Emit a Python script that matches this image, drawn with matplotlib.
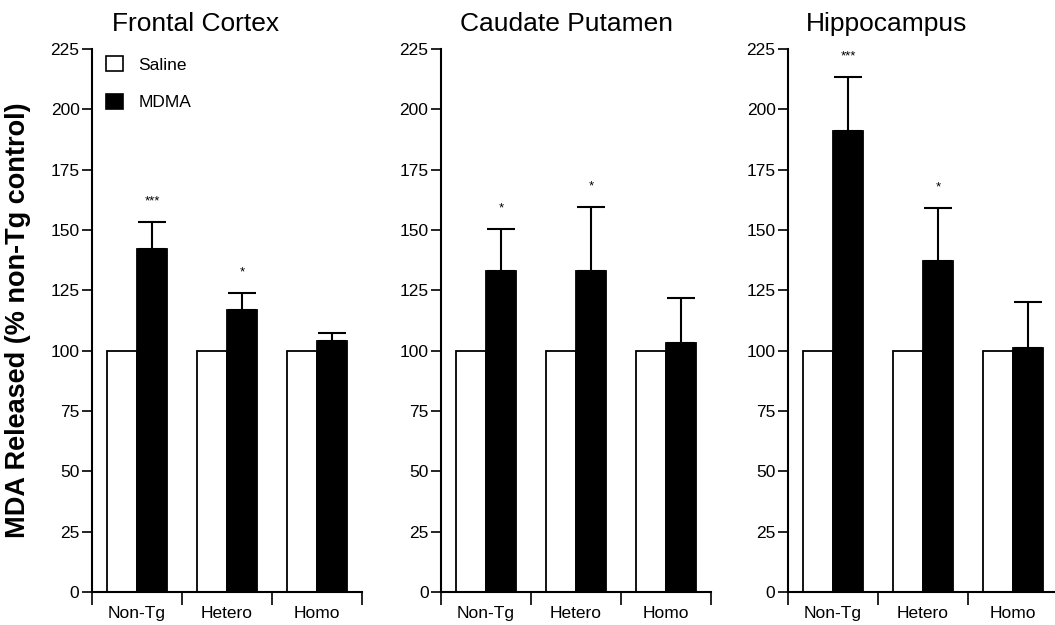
import matplotlib
matplotlib.use("Agg")
import matplotlib.pyplot as plt
from matplotlib.patches import Patch

plt.rcParams['font.family'] = ['Liberation Sans', 'DejaVu Sans']

regions = ['Frontal Cortex', 'Caudate Putamen', 'Hippocampus']
groups = ['Non-Tg', 'Hetero', 'Homo']
saline = [[100, 100, 100], [100, 100, 100], [100, 100, 100]]
mdma = [[142, 117, 104], [133, 133, 103], [191, 137, 101]]
mdma_err = [[11.5, 7, 3.5], [17.5, 26.5, 19], [22.5, 22, 19]]
stars = [['***', '*', ''], ['*', '*', ''], ['***', '*', '']]
yticks = [0, 25, 50, 75, 100, 125, 150, 175, 200, 225]

W, H = 1055, 625
fig = plt.figure(figsize=(W / 100, H / 100), dpi=100)

lefts = [92, 441, 788]
title_x = [196, 567, 887]
bottom = (H - 592) / H
height = (592 - 49) / H
width = 270 / W

for k in range(3):
    ax = fig.add_axes([lefts[k] / W, bottom, width, height])
    x = range(len(groups))
    bw = 1 / 3
    xs = [i + 1 / 6 for i in x]
    xm = [i + 1 / 2 for i in x]
    ax.bar(xs, saline[k], width=bw, align='edge', color='white',
           edgecolor='black', linewidth=1.3, zorder=2)
    ax.bar(xm, mdma[k], width=bw, align='edge', color='black',
           edgecolor='black', linewidth=1.3, zorder=2)
    xc = [i + 2 / 3 for i in x]
    ax.errorbar(xc, mdma[k], yerr=[[0] * 3, mdma_err[k]], fmt='none',
                ecolor='black', elinewidth=1.5, capsize=10, capthick=1.5,
                zorder=1)
    for i in x:
        if stars[k][i]:
            ax.text(xc[i], mdma[k][i] + mdma_err[k][i] + 6, stars[k][i],
                    ha='center', va='bottom', fontsize=9.5)
    ax.set_xlim(0, 3)
    ax.set_ylim(0, 225)
    ax.set_yticks(yticks)
    ax.set_xticks([0, 1, 2, 3])
    ax.set_xticklabels([])
    ax.set_xticks([0.5, 1.5, 2.5], minor=True)
    ax.set_xticklabels(groups, minor=True, fontsize=12.5)
    ax.tick_params(axis='x', which='major', direction='out', length=9, width=1.2)
    ax.tick_params(axis='x', which='minor', length=0, pad=10)
    ax.tick_params(axis='y', direction='out', length=7, width=1.2,
                   labelsize=12.5, pad=2)
    for s in ['top', 'right']:
        ax.spines[s].set_visible(False)
    for s in ['left', 'bottom']:
        ax.spines[s].set_linewidth(1.5)
    fig.text(title_x[k] / W, 1 - 24 / H, regions[k], ha='center', va='center',
             fontsize=19)
    if k == 0:
        handles = [Patch(facecolor='white', edgecolor='black', linewidth=1.2),
                   Patch(facecolor='black', edgecolor='black', linewidth=1.2)]
        ax.legend(handles, ['Saline', 'MDMA'], loc='upper left',
                  bbox_to_anchor=(-0.005, 1.015), frameon=False, fontsize=12.5,
                  handlelength=0.95, handleheight=0.95, labelspacing=1.2,
                  handletextpad=0.9)

fig.text(18 / W, 1 - 320 / H, 'MDA Released (% non-Tg control)', rotation=90,
         ha='center', va='center', fontsize=19.5, fontweight='bold')

fig.savefig('out.png', dpi=100)
